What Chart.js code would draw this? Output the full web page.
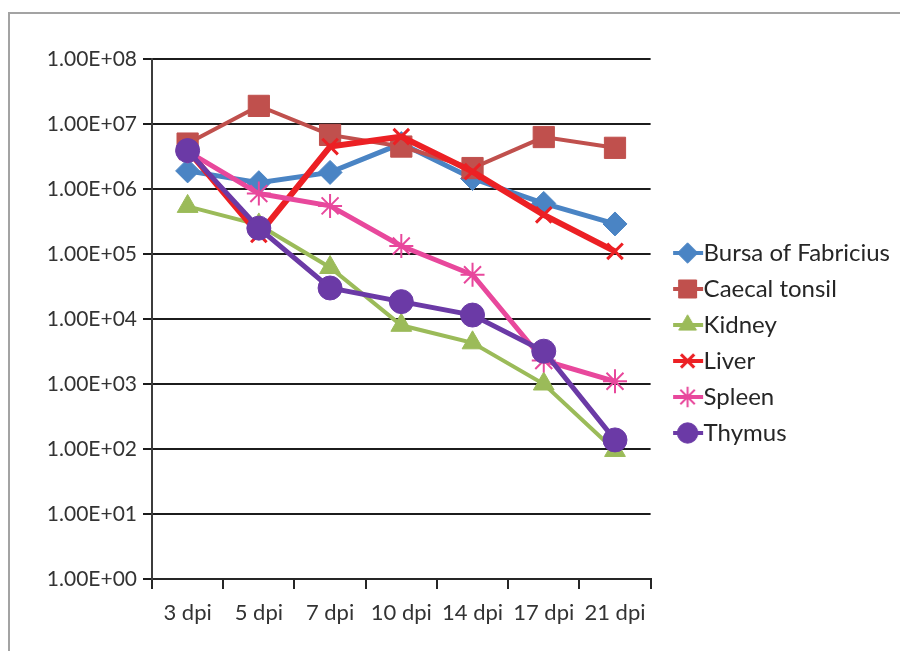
<!DOCTYPE html>
<html lang="en">
<head>
    <meta charset="UTF-8">
    <title>Viral load by organ</title>
    <style>
        body {
            margin: 0;
            background: #ffffff;
        }

        .wrap {
            position: relative;
            width: 900px;
            height: 651px;
            overflow: hidden;
        }

        .frame {
            position: absolute;
            left: 8px;
            top: 12px;
            right: -10px;
            bottom: -10px;
            border-top: 2px solid #a3a3a3;
            border-left: 2px solid #a3a3a3;
        }

        canvas {
            position: absolute;
            left: 0;
            top: 0;
        }
    </style>
    <script src="https://cdn.jsdelivr.net/npm/chart.js"></script>
</head>
<body>
    <div class="wrap">
        <div class="frame"></div>
        <canvas id="myChart" width="900" height="651"></canvas>
    </div>

    <script>
        // days post infection
        var days = ['3 dpi', '5 dpi', '7 dpi', '10 dpi', '14 dpi', '17 dpi', '21 dpi'];

        // values
        var bursa  = [1.9e6, 1.25e6, 1.8e6, 5.0e6, 1.45e6, 6.0e5, 2.9e5];
        var caecal = [5.0e6, 1.9e7, 6.8e6, 4.5e6, 2.1e6, 6.3e6, 4.3e6];
        var kidney = [5.4e5, 2.8e5, 6.2e4, 8.0e3, 4.3e3, 1.0e3, 9.5e1];
        var liver  = [4.0e6, 2.0e5, 4.5e6, 6.4e6, 1.85e6, 4.0e5, 1.1e5];
        var spleen = [3.8e6, 8.5e5, 5.5e5, 1.33e5, 4.8e4, 2.3e3, 1.1e3];
        var thymus = [3.9e6, 2.5e5, 3.0e4, 1.85e4, 1.15e4, 3.2e3, 1.38e2];

        var yTicks = [1e0, 1e1, 1e2, 1e3, 1e4, 1e5, 1e6, 1e7, 1e8];
        var yTickLabels = ['1.00E+00', '1.00E+01', '1.00E+02', '1.00E+03', '1.00E+04',
                           '1.00E+05', '1.00E+06', '1.00E+07', '1.00E+08'];

        var FONT = 'Lato, "Open Sans", "DejaVu Sans Condensed", sans-serif';

        function series(label, data, color, style, radius, pointWidth, lineWidth, order) {
            return {
                label: label,
                data: data,
                borderColor: color,
                backgroundColor: color,
                borderWidth: lineWidth,
                pointStyle: style,
                pointRadius: radius,
                pointHoverRadius: radius,
                pointBackgroundColor: color,
                pointBorderColor: color,
                pointBorderWidth: pointWidth,
                tension: 0,
                order: order
            };
        }

        var datasets = [
            series('Bursa of Fabricius', bursa,  '#4a84c4', 'rectRot',  12, 1, 5, 5),
            series('Caecal tonsil',      caecal, '#c0504d', 'rect',     15, 1, 4, 4),
            series('Kidney',             kidney, '#9bbb59', 'triangle', 12, 1, 4, 3),
            series('Liver',              liver,  '#ec2024', 'crossRot', 11, 3, 6, 2),
            series('Spleen',             spleen, '#e8489c', 'star',     12, 2, 5, 1),
            series('Thymus',             thymus, '#6b3aa6', 'circle',   12, 1, 5, 0)
        ];

        // legend icon: a short line with the marker on it
        function makeIcon(ds) {
            var icon = document.createElement('canvas');
            icon.width = 60;
            icon.height = 28;
            var c = icon.getContext('2d');
            c.strokeStyle = ds.borderColor;
            c.lineWidth = 4;
            c.beginPath();
            c.moveTo(26, 14);
            c.lineTo(56, 14);
            c.stroke();
            c.fillStyle = ds.pointBackgroundColor;
            c.strokeStyle = ds.pointBorderColor;
            c.lineWidth = ds.pointBorderWidth;
            if (Chart.helpers && Chart.helpers.drawPoint) {
                Chart.helpers.drawPoint(c, {
                    pointStyle: ds.pointStyle,
                    radius: ds.pointRadius * 0.85,
                    borderWidth: ds.pointBorderWidth,
                    rotation: 0
                }, 40.5, 14);
            }
            return icon;
        }

        var icons = datasets.map(makeIcon);

        new Chart(document.getElementById('myChart'), {
            type: 'line',
            data: {
                labels: days,
                datasets: datasets
            },
            options: {
                responsive: false,
                animation: false,
                devicePixelRatio: 1,
                layout: {
                    padding: { top: 59, left: 0, right: 0, bottom: 24 }
                },
                plugins: {
                    tooltip: { enabled: false },
                    legend: {
                        position: 'right',
                        maxWidth: 300,
                        labels: {
                            usePointStyle: true,
                            pointStyleWidth: 29,
                            padding: 12,
                            color: '#262626',
                            font: { family: FONT, size: 24 },
                            sort: function (a, b) { return a.datasetIndex - b.datasetIndex; },
                            generateLabels: function (chart) {
                                var items = Chart.defaults.plugins.legend.labels.generateLabels(chart);
                                items.forEach(function (it) {
                                    it.pointStyle = icons[it.datasetIndex];
                                });
                                return items;
                            }
                        }
                    }
                },
                scales: {
                    x: {
                        type: 'category',
                        offset: true,
                        grid: {
                            offset: true,
                            drawOnChartArea: false,
                            drawTicks: true,
                            tickLength: 10,
                            lineWidth: 2,
                            color: '#262626'
                        },
                        border: { color: '#262626', width: 2 },
                        ticks: {
                            padding: 11,
                            color: '#333333',
                            font: { family: FONT, size: 22 },
                            maxRotation: 0
                        },
                        afterFit: function (scale) { scale.height = 48; }
                    },
                    y: {
                        type: 'logarithmic',
                        min: 1,
                        max: 1e8,
                        grid: {
                            lineWidth: 2,
                            color: '#1c1c1c',
                            tickLength: 9
                        },
                        border: { color: '#3c3c3c', width: 2 },
                        ticks: {
                            padding: 6,
                            color: '#333333',
                            font: { family: FONT, size: 21 },
                            callback: function (value, index) { return yTickLabels[index]; }
                        },
                        afterBuildTicks: function (scale) {
                            scale.ticks = yTicks.map(function (v) { return { value: v }; });
                        },
                        afterFit: function (scale) { scale.width = 152; }
                    }
                }
            }
        });
    </script>
</body>
</html>
